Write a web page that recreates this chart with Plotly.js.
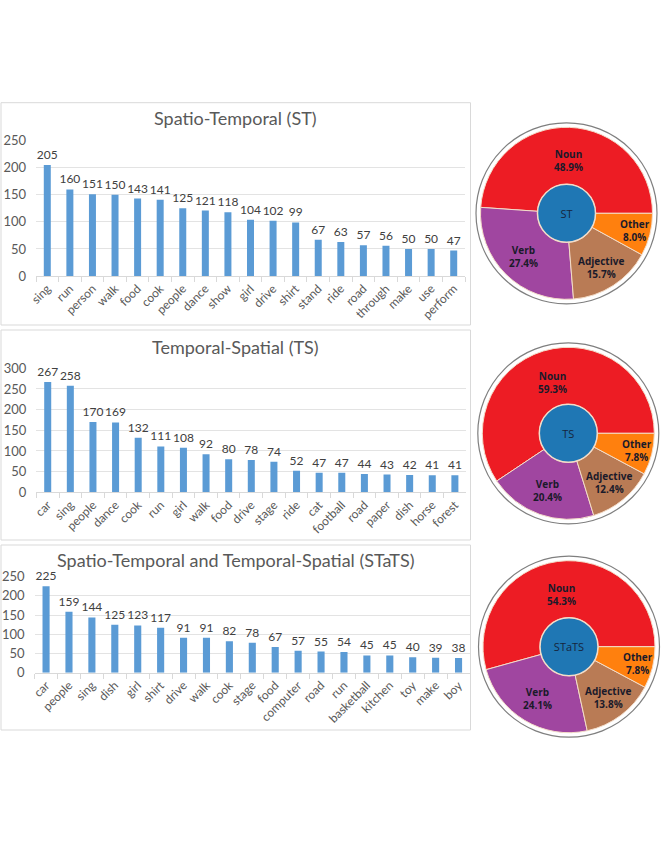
<!DOCTYPE html>
<html>
<head>
<meta charset="utf-8">
<script src="https://cdn.plot.ly/plotly-3.0.1.min.js"></script>
<style>
  html, body { margin: 0; padding: 0; background: #fff; }
  #graph { width: 664px; height: 860px; }
</style>
</head>
<body>
<div id="graph"></div>
<script>
// word frequencies
const stWords = ['sing', 'run', 'person', 'walk', 'food', 'cook', 'people', 'dance', 'show',
  'girl', 'drive', 'shirt', 'stand', 'ride', 'road', 'through', 'make', 'use', 'perform'];
const stCounts = [205, 160, 151, 150, 143, 141, 125, 121, 118, 104, 102, 99, 67, 63, 57, 56, 50, 50, 47];

const tsWords = ['car', 'sing', 'people', 'dance', 'cook', 'run', 'girl', 'walk', 'food',
  'drive', 'stage', 'ride', 'cat', 'football', 'road', 'paper', 'dish', 'horse', 'forest'];
const tsCounts = [267, 258, 170, 169, 132, 111, 108, 92, 80, 78, 74, 52, 47, 47, 44, 43, 42, 41, 41];

const statsWords = ['car', 'people', 'sing', 'dish', 'girl', 'shirt', 'drive', 'walk', 'cook',
  'stage', 'food', 'computer', 'road', 'run', 'basketball', 'kitchen', 'toy', 'make', 'boy'];
const statsCounts = [225, 159, 144, 125, 123, 117, 91, 91, 82, 78, 67, 57, 55, 54, 45, 45, 40, 39, 38];

// part-of-speech shares (percent) for the donuts
const posLabels = ['Noun', 'Verb', 'Adjective', 'Other'];
const stShares = [48.9, 27.4, 15.7, 8.0];
const tsShares = [59.3, 20.4, 12.4, 7.8];
const statsShares = [54.3, 24.1, 13.8, 7.8];

const W = 664, H = 860;
const px = v => v / W;            // pixel -> paper x
const py = v => 1 - v / H;        // pixel -> paper y

const BAR_BLUE = '#5b9bd5';
const TXT = '#595959';
const posColors = ['#ed1c24', '#a046a0', '#b97b55', '#ff800e'];

function barTrace(x, y, n) {
  return {
    type: 'bar', x: x, y: y,
    xaxis: 'x' + (n === 1 ? '' : n), yaxis: 'y' + (n === 1 ? '' : n),
    marker: { color: BAR_BLUE },
    text: y.map(String), textposition: 'outside', cliponaxis: false,
    constraintext: 'none',
    textfont: { family: 'Lato', size: 12, color: '#404040' },
    hoverinfo: 'x+y'
  };
}

// donut = outline ring + ring of slices + blue centre disc
const R = 86, RING = 90.5, HUB = 29;
function donut(name, shares, cx, cy) {
  const dom = rr => ({ x: [px(cx - rr), px(cx + rr)], y: [py(cy + rr), py(cy - rr)] });
  const total = shares.reduce((a, b) => a + b, 0);
  return [
    {
      type: 'pie', values: [1], labels: [name + ' ring'], domain: dom(RING),
      marker: { colors: ['#ffffff'], line: { color: '#7f7f7f', width: 1.2 } },
      textinfo: 'none', hoverinfo: 'skip', sort: false
    },
    {
      // ccw pies put the first slice clockwise of `rotation`, so back it off
      // by the first slice's sweep to make Noun start at 3 o'clock
      type: 'pie', values: shares, labels: posLabels, domain: dom(R),
      hole: HUB / R, sort: false, direction: 'counterclockwise',
      rotation: 90 - shares[0] / total * 360,
      marker: { colors: posColors, line: { color: '#f3dcc8', width: 1 } },
      textinfo: 'none', hoverinfo: 'label+value'
    },
    {
      type: 'pie', values: [1], labels: [name], domain: dom(HUB), sort: false,
      marker: { colors: ['#1f77b4'], line: { color: '#f3dcc8', width: 1.5 } },
      textinfo: 'label', textposition: 'inside',
      textfont: { family: 'Open Sans', size: 11, color: '#16263d' },
      hoverinfo: 'label'
    }
  ];
}

// slice labels placed at each slice's mid-angle (first slice starts at 3 o'clock, ccw)
const labelRadius = [53, 61, 64, 71];
function donutLabels(shares, cx, cy) {
  const total = shares.reduce((a, b) => a + b, 0);
  let cum = 0;
  return shares.map((s, i) => {
    const mid = (cum + s / 2) / total * 2 * Math.PI;
    cum += s;
    const rr = labelRadius[i];
    return {
      text: '<b>' + posLabels[i] + '<br>' + s.toFixed(1) + '%</b>',
      xref: 'paper', yref: 'paper',
      x: px(cx + rr * Math.cos(mid)), y: py(cy - rr * Math.sin(mid)),
      xanchor: 'center', yanchor: 'middle', showarrow: false,
      font: { family: 'Open Sans', size: 10, color: '#1a1a2a' }
    };
  });
}

const pies = [
  { name: 'ST', shares: stShares, cx: 566.5, cy: 213.3 },
  { name: 'TS', shares: tsShares, cx: 568.3, cy: 433.3 },
  { name: 'STaTS', shares: statsShares, cx: 569, cy: 646.7 }
];

const data = [
  barTrace(stWords, stCounts, 1),
  barTrace(tsWords, tsCounts, 2),
  barTrace(statsWords, statsCounts, 3)
];
pies.forEach(p => data.push(...donut(p.name, p.shares, p.cx, p.cy)));

function xAxis(x0, x1, anchor) {
  return {
    domain: [px(x0), px(x1)], anchor: anchor,
    tickangle: -45, tickfont: { family: 'Lato', size: 12, color: TXT },
    showline: true, linecolor: '#d9d9d9', linewidth: 1,
    ticks: 'outside', tickson: 'boundaries', ticklen: 5, tickcolor: '#d9d9d9',
    showgrid: false, fixedrange: true
  };
}
function yAxis(top, bottom, max, anchor) {
  return {
    domain: [py(bottom), py(top)], anchor: anchor, range: [0, max], dtick: 50,
    tickfont: { family: 'Lato', size: 13, color: TXT },
    gridcolor: '#e3e3e3', zeroline: false, showline: false,
    ticklabelstandoff: 9, fixedrange: true
  };
}

function box(x0, y0, x1, y1) {
  return {
    type: 'rect', xref: 'paper', yref: 'paper',
    x0: px(x0), x1: px(x1), y0: py(y1), y1: py(y0),
    line: { color: '#d9d9d9', width: 1 }, fillcolor: 'rgba(0,0,0,0)', layer: 'below'
  };
}
function title(text, y) {
  return {
    text: text, xref: 'paper', yref: 'paper', x: px(235), y: py(y),
    xanchor: 'center', yanchor: 'middle', showarrow: false,
    font: { family: 'Lato', size: 18, color: TXT }
  };
}

const annotations = [
  title('Spatio-Temporal (ST)', 118),
  title('Temporal-Spatial (TS)', 347),
  title('Spatio-Temporal and Temporal-Spatial (STaTS)', 560)
];
pies.forEach(p => annotations.push(...donutLabels(p.shares, p.cx, p.cy)));

const layout = {
  width: W, height: H,
  margin: { l: 0, r: 0, t: 0, b: 0, pad: 0 },
  paper_bgcolor: '#ffffff', plot_bgcolor: 'rgba(0,0,0,0)',
  showlegend: false, bargap: 0.69,
  font: { family: 'Lato', color: TXT },
  xaxis: xAxis(36, 465, 'y'),
  yaxis: yAxis(140.7, 276, 250, 'x'),
  xaxis2: xAxis(36.4, 466.2, 'y2'),
  yaxis2: yAxis(368.3, 492.3, 300, 'x2'),
  xaxis3: xAxis(34.6, 470, 'y3'),
  yaxis3: yAxis(576.7, 672.7, 250, 'x3'),
  shapes: [
    box(1, 102.7, 470.5, 325),
    box(1, 330, 470.5, 540),
    box(1, 545, 470.5, 730)
  ],
  annotations: annotations
};

Plotly.newPlot('graph', data, layout, { displayModeBar: false, staticPlot: true });
</script>
</body>
</html>
